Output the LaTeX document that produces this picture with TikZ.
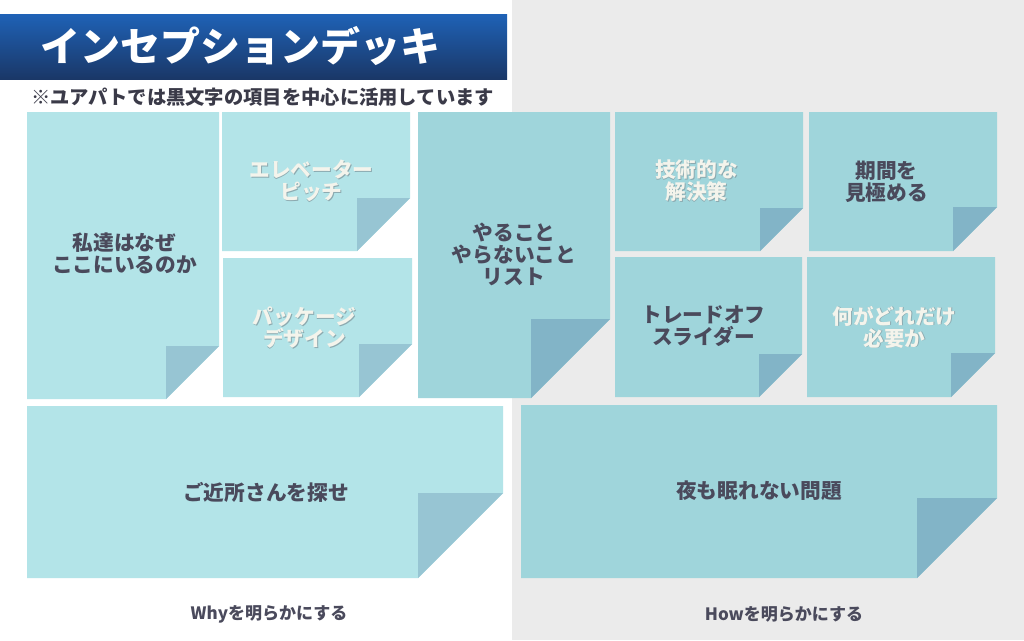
\documentclass[tikz,border=0pt]{standalone}
\usepackage{fontspec}
\setmainfont{Noto Sans CJK JP}
\definecolor{lnote}{HTML}{B3E4E8}
\definecolor{lfold}{HTML}{97C5D3}
\definecolor{rnote}{HTML}{9FD5DB}
\definecolor{rfold}{HTML}{82B4C7}
\definecolor{bggray}{HTML}{EBEBEB}
\definecolor{ink}{HTML}{4A4A5C}
\definecolor{subink}{HTML}{3A3A48}
\definecolor{paper}{HTML}{F4F4EC}
\definecolor{shade}{HTML}{8CAAB0}
\definecolor{titletop}{HTML}{1F62B6}
\definecolor{titlebot}{HTML}{1A3767}
\newcommand{\sticky}[7]{%
  \fill[#6] (#1,#2) -- (#3,#2) -- (#3,#4-#5) -- (#3-#5,#4) -- (#1,#4) -- cycle;
  \fill[#7] (#3-#5,#4-#5) -- (#3,#4-#5) -- (#3-#5,#4) -- cycle;}
\tikzset{
  notetxt/.style={align=center,inner sep=0pt,font=\bfseries\fontsize{20.7}{22}\selectfont},
  darktxt/.style={notetxt,text=ink},
  lighttxt/.style={notetxt,text=paper},
  shadowtxt/.style={notetxt,text=shade},
  axistxt/.style={inner sep=0pt,text=ink,font=\bfseries\fontsize{17}{20}\selectfont}
}
\newcommand{\wlabel}[3]{%
  \node[shadowtxt,xshift=0.8pt,yshift=-0.8pt] (#1s) at (#2) {#3};
  \node[lighttxt] (#1) at (#2) {#3};}
\begin{document}
\begin{tikzpicture}[x=1pt,y=-1pt]
\useasboundingbox (0,0) rectangle (1024,640);
\fill[white] (0,0) rectangle (1024,640);
\fill[bggray] (512,0) rectangle (1024,640);
\shade[top color=titletop,bottom color=titlebot] (0,14) rectangle (507,79);
\node[inner sep=0pt,text=white,font=\bfseries\fontsize{40}{44}\selectfont] (title) at (240,46) {インセプションデッキ};
\node[inner sep=0pt,text=subink,font=\bfseries\fontsize{19.3}{22}\selectfont] (sub) at (262.5,97) {※ユアパトでは黒文字の項目を中心に活用しています};
% left notes
\sticky{27}{112}{219}{399}{53}{lnote}{lfold}
\sticky{222}{112}{410}{251}{53}{lnote}{lfold}
\sticky{223}{258}{412}{397}{53}{lnote}{lfold}
\sticky{27}{406}{503}{578}{85}{lnote}{lfold}
% right notes
\sticky{418}{112}{610}{398}{79}{rnote}{rfold}
\sticky{615}{112}{803}{251}{43}{rnote}{rfold}
\sticky{615}{257}{802}{397}{43}{rnote}{rfold}
\sticky{809}{112}{997}{251}{44}{rnote}{rfold}
\sticky{807}{257}{995}{397}{44}{rnote}{rfold}
\sticky{521}{405}{997}{578}{80}{rnote}{rfold}
% texts
\node[darktxt] (why) at (124.5,253.5) {私達はなぜ\\ここにいるのか};
\wlabel{elev}{311.5,181}{エレベーター\\ピッチ}
\wlabel{pack}{304.5,327.5}{パッケージ\\デザイン}
\node[darktxt] (neigh) at (266,492) {ご近所さんを探せ};
\node[darktxt] (todo) at (514,254) {やること\\やらないこと\\リスト};
\wlabel{tech}{696.5,180.5}{技術的な\\解決策}
\node[darktxt] (trade) at (703.5,326) {トレードオフ\\スライダー};
\node[darktxt] (term) at (886.5,181.5) {期間を\\見極める};
\wlabel{need}{894.5,327}{何がどれだけ\\必要か}
\node[darktxt] (night) at (759,491) {夜も眠れない問題};
\node[axistxt] (whyax) at (269,614) {Whyを明らかにする};
\node[axistxt] (howax) at (784,614) {Howを明らかにする};
\end{tikzpicture}
\end{document}
